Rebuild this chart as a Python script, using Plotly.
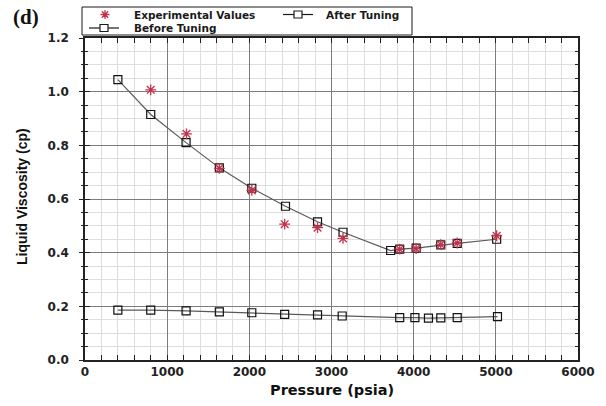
import plotly.graph_objects as go

# Pressure (psia) and liquid viscosity (cp)
p_after = [400, 800, 1230, 1635, 2030, 2440, 2830, 3140, 3720, 3830, 4030, 4330, 4530, 5010]
mu_after = [1.045, 0.915, 0.81, 0.716, 0.64, 0.573, 0.515, 0.476, 0.408, 0.413, 0.417, 0.429, 0.435, 0.450]

p_exp = [800, 1235, 1635, 2030, 2430, 2830, 3140, 3830, 4030, 4330, 4530, 5010]
mu_exp = [1.007, 0.843, 0.714, 0.632, 0.506, 0.493, 0.453, 0.413, 0.415, 0.430, 0.436, 0.463]

p_before = [400, 800, 1230, 1635, 2030, 2430, 2830, 3130, 3830, 4015, 4180, 4330, 4530, 5020]
mu_before = [0.186, 0.186, 0.183, 0.179, 0.176, 0.170, 0.168, 0.164, 0.158, 0.158, 0.156, 0.157, 0.158, 0.162]

x_ticks = [0, 1000, 2000, 3000, 4000, 5000, 6000]
y_ticks = [0.0, 0.2, 0.4, 0.6, 0.8, 1.0, 1.2]
y_tick_text = ["0.0", "0.2", "0.4", "0.6", "0.8", "1.0", "1.2"]

series_names = ["Experimental Values", "After Tuning", "Before Tuning"]

W, H = 606, 406
ML, MR, MT, MB = 85, 28, 38, 46
PW, PH = W - ML - MR, H - MT - MB

LINE_GREY = "#5a5a5a"
RED = "#c4314b"
INK = "#1a1a1a"
tick_font = dict(family="DejaVu Sans", size=12, color="#222222", weight="bold")
legend_font = dict(family="DejaVu Sans", size=10.5, color=INK, weight="bold")


def px(x):
    """horizontal pixel -> paper fraction"""
    return (x - ML) / PW


def py(y):
    """vertical pixel (from top) -> paper fraction"""
    return (H - MB - y) / PH


fig = go.Figure()

fig.add_trace(go.Scatter(
    x=p_after, y=mu_after, name=series_names[1], mode="lines+markers",
    line=dict(color=LINE_GREY, width=1.2),
    marker=dict(symbol="square-open", size=8, color="#111111", line=dict(width=1.2)),
))
fig.add_trace(go.Scatter(
    x=p_before, y=mu_before, name=series_names[2], mode="lines+markers",
    line=dict(color=LINE_GREY, width=1.2),
    marker=dict(symbol="square-open", size=8, color="#111111", line=dict(width=1.2)),
))
fig.add_trace(go.Scatter(
    x=p_exp, y=mu_exp, name=series_names[0], mode="markers",
    marker=dict(symbol="asterisk-open", size=9, color=RED, line=dict(width=1.3, color=RED)),
))

# invisible helper trace so the overlay axis (outer tick marks) is drawn
fig.add_trace(go.Scatter(x=[0], y=[0], yaxis="y2", mode="markers",
                         marker=dict(opacity=0), showlegend=False, hoverinfo="skip"))

# ---- compact boxed key above the plot ----
ROW1, ROW2 = 14.5, 28
shapes = [
    dict(type="rect", xref="paper", yref="paper",
         x0=px(82), x1=px(412), y0=py(35), y1=py(7),
         line=dict(color=INK, width=1), fillcolor="white", layer="above"),
]


def key_line_square(xc, yc):
    out = [dict(type="line", xref="paper", yref="paper",
                x0=px(xc - 15), x1=px(xc + 15), y0=py(yc), y1=py(yc),
                line=dict(color=INK, width=1.2))]
    out.append(dict(type="rect", xref="paper", yref="paper",
                    xsizemode="pixel", ysizemode="pixel",
                    xanchor=px(xc), yanchor=py(yc),
                    x0=-4, x1=4, y0=-3.5, y1=3.5,
                    line=dict(color=INK, width=1.2), fillcolor="white"))
    return out


shapes.append(dict(type="path", xref="paper", yref="paper",
                   xsizemode="pixel", ysizemode="pixel",
                   xanchor=px(105), yanchor=py(ROW1),
                   path="M-4.5,0H4.5M0,-4.5V4.5M-3.2,-3.2L3.2,3.2M-3.2,3.2L3.2,-3.2",
                   line=dict(color=RED, width=1.3)))
shapes += key_line_square(298, ROW1)
shapes += key_line_square(104, ROW2)

annotations = [
    dict(text=series_names[0], x=px(132), y=py(ROW1), xref="paper", yref="paper",
         xanchor="left", yanchor="middle", showarrow=False, font=legend_font),
    dict(text=series_names[1], x=px(324), y=py(ROW1), xref="paper", yref="paper",
         xanchor="left", yanchor="middle", showarrow=False, font=legend_font),
    dict(text=series_names[2], x=px(132), y=py(ROW2), xref="paper", yref="paper",
         xanchor="left", yanchor="middle", showarrow=False, font=legend_font),
    dict(text="(d)", x=px(26), y=py(17), xref="paper", yref="paper",
         xanchor="center", yanchor="middle", showarrow=False,
         font=dict(family="Liberation Serif", size=21, color="#111111", weight="bold")),
    dict(text="Pressure (psia)", x=0.5, xref="paper", y=py(390), yref="paper",
         xanchor="center", yanchor="middle", showarrow=False,
         font=dict(family="DejaVu Sans", size=14.5, color="#111111", weight="bold")),
    dict(text="Liquid Viscosity (cp)", textangle=-90, x=px(22), xref="paper",
         y=py(196), yref="paper", xanchor="center", yanchor="middle", showarrow=False,
         font=dict(family="Liberation Sans", size=14, color="#111111", weight="bold")),
]

fig.update_layout(
    width=W, height=H,
    margin=dict(l=ML, r=MR, t=MT, b=MB),
    paper_bgcolor="white", plot_bgcolor="white",
    showlegend=False,
    xaxis=dict(
        range=[0, 6000], tickvals=x_ticks, ticktext=[str(v) for v in x_ticks],
        showgrid=True, gridcolor="#7c7c7c", gridwidth=1.3,
        minor=dict(dtick=200, showgrid=True, gridcolor="#dedede", gridwidth=1,
                   ticks="inside", ticklen=3, tickcolor="#222222"),
        ticks="inside", ticklen=5, tickcolor="#222222",
        showline=True, linecolor="#222222", linewidth=1.5, mirror="allticks",
        tickfont=tick_font, ticklabelstandoff=0, zeroline=False,
    ),
    yaxis=dict(
        range=[0, 1.2], tickvals=y_ticks, ticktext=y_tick_text,
        showgrid=True, gridcolor="#7c7c7c", gridwidth=1.3,
        minor=dict(dtick=0.05, showgrid=True, gridcolor="#dedede", gridwidth=1,
                   ticks="inside", ticklen=3, tickcolor="#222222"),
        ticks="inside", ticklen=5, tickcolor="#222222",
        showline=True, linecolor="#222222", linewidth=1.5, mirror="allticks",
        tickfont=tick_font, ticklabelstandoff=12, zeroline=False,
    ),
    yaxis2=dict(
        range=[0, 1.2], overlaying="y", side="left", tickvals=y_ticks,
        showticklabels=False, showgrid=False, zeroline=False,
        ticks="outside", ticklen=5, tickcolor="#222222",
        minor=dict(dtick=0.05, ticks="outside", ticklen=3, tickcolor="#222222"),
    ),
    shapes=shapes,
    annotations=annotations,
)

fig.write_html("out.html")
